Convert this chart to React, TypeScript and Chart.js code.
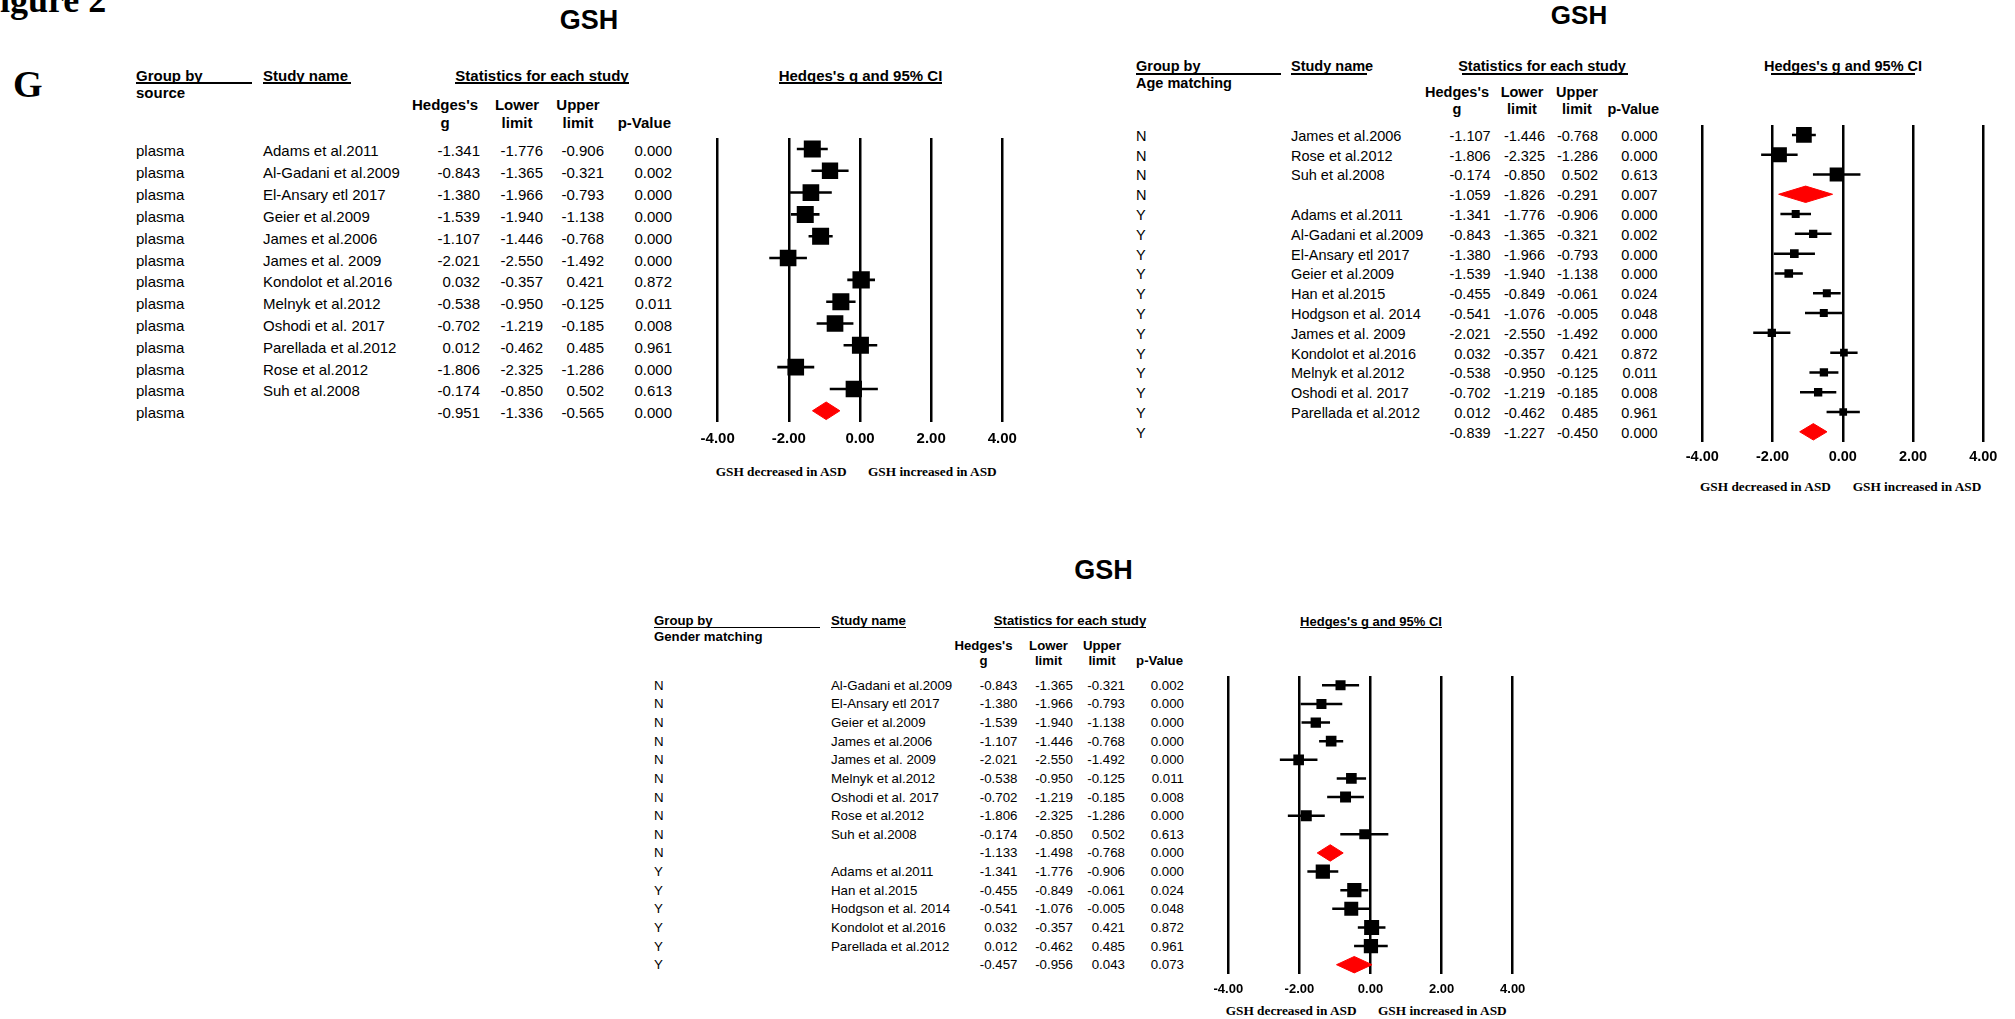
import React, { useEffect, useRef } from "react";
import { Chart, registerables } from "chart.js";

Chart.register(...registerables);

const SANS = '"Liberation Sans", Arial, Helvetica, sans-serif';
const SERIF = '"Liberation Serif", "Times New Roman", serif';

// ---------- shared text ----------
const FIGURE_LABEL = "Figure 2";
const PANEL_LETTER = "G";
const OUTCOME = "GSH";
const AXIS_TICKS = [-4, -2, 0, 2, 4];
const LEFT_NOTE = "GSH decreased in ASD";
const RIGHT_NOTE = "GSH increased in ASD";

// ---------- panel 1: group by source ----------
const P1_GROUP_TITLE = "source";
const P1_GROUP = ["plasma", "plasma", "plasma", "plasma", "plasma", "plasma", "plasma", "plasma", "plasma", "plasma", "plasma", "plasma", "plasma"];
const P1_STUDY = ["Adams et al.2011", "Al-Gadani et al.2009", "El-Ansary etl 2017", "Geier et al.2009", "James et al.2006", "James et al. 2009", "Kondolot et al.2016", "Melnyk et al.2012", "Oshodi et al. 2017", "Parellada et al.2012", "Rose et al.2012", "Suh et al.2008", ""];
const P1_G = [-1.341, -0.843, -1.380, -1.539, -1.107, -2.021, 0.032, -0.538, -0.702, 0.012, -1.806, -0.174, -0.951];
const P1_LOWER = [-1.776, -1.365, -1.966, -1.940, -1.446, -2.550, -0.357, -0.950, -1.219, -0.462, -2.325, -0.850, -1.336];
const P1_UPPER = [-0.906, -0.321, -0.793, -1.138, -0.768, -1.492, 0.421, -0.125, -0.185, 0.485, -1.286, 0.502, -0.565];
const P1_P = [0.000, 0.002, 0.000, 0.000, 0.000, 0.000, 0.872, 0.011, 0.008, 0.961, 0.000, 0.613, 0.000];
const P1_WEIGHT = [1.0, 0.96, 0.98, 1.0, 1.0, 0.98, 1.02, 1.0, 0.98, 1.0, 0.98, 0.96, 0];

// ---------- panel 2: group by age matching ----------
const P2_GROUP_TITLE = "Age matching";
const P2_GROUP = ["N", "N", "N", "N", "Y", "Y", "Y", "Y", "Y", "Y", "Y", "Y", "Y", "Y", "Y", "Y"];
const P2_STUDY = ["James et al.2006", "Rose et al.2012", "Suh et al.2008", "", "Adams et al.2011", "Al-Gadani et al.2009", "El-Ansary etl 2017", "Geier et al.2009", "Han et al.2015", "Hodgson et al. 2014", "James et al. 2009", "Kondolot et al.2016", "Melnyk et al.2012", "Oshodi et al. 2017", "Parellada et al.2012", ""];
const P2_G = [-1.107, -1.806, -0.174, -1.059, -1.341, -0.843, -1.380, -1.539, -0.455, -0.541, -2.021, 0.032, -0.538, -0.702, 0.012, -0.839];
const P2_LOWER = [-1.446, -2.325, -0.850, -1.826, -1.776, -1.365, -1.966, -1.940, -0.849, -1.076, -2.550, -0.357, -0.950, -1.219, -0.462, -1.227];
const P2_UPPER = [-0.768, -1.286, 0.502, -0.291, -0.906, -0.321, -0.793, -1.138, -0.061, -0.005, -1.492, 0.421, -0.125, -0.185, 0.485, -0.450];
const P2_P = [0.000, 0.000, 0.613, 0.007, 0.000, 0.002, 0.000, 0.000, 0.024, 0.048, 0.000, 0.872, 0.011, 0.008, 0.961, 0.000];
const P2_WEIGHT = [0.98, 0.94, 0.88, 0, 0.5, 0.52, 0.54, 0.54, 0.5, 0.5, 0.52, 0.48, 0.52, 0.52, 0.48, 0];

// ---------- panel 3: group by gender matching ----------
const P3_GROUP_TITLE = "Gender matching";
const P3_GROUP = ["N", "N", "N", "N", "N", "N", "N", "N", "N", "N", "Y", "Y", "Y", "Y", "Y", "Y"];
const P3_STUDY = ["Al-Gadani et al.2009", "El-Ansary etl 2017", "Geier et al.2009", "James et al.2006", "James et al. 2009", "Melnyk et al.2012", "Oshodi et al. 2017", "Rose et al.2012", "Suh et al.2008", "", "Adams et al.2011", "Han et al.2015", "Hodgson et al. 2014", "Kondolot et al.2016", "Parellada et al.2012", ""];
const P3_G = [-0.843, -1.380, -1.539, -1.107, -2.021, -0.538, -0.702, -1.806, -0.174, -1.133, -1.341, -0.455, -0.541, 0.032, 0.012, -0.457];
const P3_LOWER = [-1.365, -1.966, -1.940, -1.446, -2.550, -0.950, -1.219, -2.325, -0.850, -1.498, -1.776, -0.849, -1.076, -0.357, -0.462, -0.956];
const P3_UPPER = [-0.321, -0.793, -1.138, -0.768, -1.492, -0.125, -0.185, -1.286, 0.502, -0.768, -0.906, -0.061, -0.005, 0.421, 0.485, 0.043];
const P3_P = [0.002, 0.000, 0.000, 0.000, 0.000, 0.011, 0.008, 0.000, 0.613, 0.000, 0.000, 0.024, 0.048, 0.872, 0.961, 0.073];
const P3_WEIGHT = [0.67, 0.67, 0.69, 0.71, 0.71, 0.71, 0.73, 0.73, 0.67, 0, 0.95, 0.95, 0.93, 1.0, 0.95, 0];

type PanelData = {
  groupTitle: string;
  group: string[];
  study: string[];
  g: number[];
  lo: number[];
  hi: number[];
  p: number[];
  w: number[];
};

const D1: PanelData = { groupTitle: P1_GROUP_TITLE, group: P1_GROUP, study: P1_STUDY, g: P1_G, lo: P1_LOWER, hi: P1_UPPER, p: P1_P, w: P1_WEIGHT };
const D2: PanelData = { groupTitle: P2_GROUP_TITLE, group: P2_GROUP, study: P2_STUDY, g: P2_G, lo: P2_LOWER, hi: P2_UPPER, p: P2_P, w: P2_WEIGHT };
const D3: PanelData = { groupTitle: P3_GROUP_TITLE, group: P3_GROUP, study: P3_STUDY, g: P3_G, lo: P3_LOWER, hi: P3_UPPER, p: P3_P, w: P3_WEIGHT };

// ---------- layouts (positions / sizes only) ----------
const L1 = {
  title: { x: 589, y: 20, size: 27 },
  head: { size: 15, groupX: 136, y1: 75, y2: 92, groupUl: [136, 252], studyX: 263, studyUl: [263, 351], statsC: 542, statsUl: [455, 629], yA: 104, yB: 122, hedgesC: 445, lowerC: 517, upperC: 578, pRight: 671, ulY: 83 },
  rows: { size: 15, groupX: 136, studyX: 263, gR: 480, loR: 543, hiR: 604, pR: 672, dy: 1.5 },
  plot: { left: 717.7, right: 1002.3, top: 138, bottom: 421.7, tickY: 439, tickSize: 15, grid: 2.5, ci: 2.6, marker: 17, diamondHalf: 8.8 },
  ciHead: { x: 860.5, y: 75, size: 15, ul: [779, 942], ulY: 83 },
  bottom: { y: 471.7, size: 13.3, decX: 715.7, incX: 868 },
};

const L2 = {
  title: { x: 1579, y: 15, size: 26 },
  head: { size: 14.5, groupX: 1136, y1: 66, y2: 83, groupUl: [1136, 1280.5], studyX: 1291, studyUl: [1291, 1367], statsC: 1542, statsUl: [1462, 1628], yA: 92, yB: 109, hedgesC: 1457, lowerC: 1522, upperC: 1577, pRight: 1659, ulY: 74 },
  rows: { size: 14.5, groupX: 1136, studyX: 1291, gR: 1490.6, loR: 1545, hiR: 1598, pR: 1657.6, dy: 1 },
  plot: { left: 1702.3, right: 1983.3, top: 125, bottom: 441.7, tickY: 456.7, tickSize: 14.5, grid: 2.5, ci: 2.5, marker: 16, diamondHalf: 8.2 },
  ciHead: { x: 1843, y: 66, size: 14.5, ul: [1770.7, 1915], ulY: 74 },
  bottom: { y: 486.7, size: 13.3, decX: 1700, incX: 1852.7 },
};

const L3 = {
  title: { x: 1103.5, y: 570, size: 27 },
  head: { size: 13.2, groupX: 654, y1: 620.7, y2: 636.7, groupUl: [654, 820], studyX: 831, studyUl: [831, 906], statsC: 1070, statsUl: [993.6, 1146.4], yA: 645.7, yB: 660.7, hedgesC: 983.5, lowerC: 1048.5, upperC: 1102, pRight: 1183, ulY: 627.5 },
  rows: { size: 13.3, groupX: 654, studyX: 831, gR: 1017.5, loR: 1072.9, hiR: 1125, pR: 1184, dy: 0.5 },
  plot: { left: 1228.3, right: 1512.7, top: 676, bottom: 974, tickY: 989.3, tickSize: 13, grid: 2.5, ci: 2.5, marker: 15, diamondHalf: 8.2 },
  ciHead: { x: 1371, y: 620.7, size: 13, ul: [1300, 1442.3], ulY: 627.5 },
  bottom: { y: 1011, size: 13.3, decX: 1225.7, incX: 1378 },
};

type Layout = typeof L1;

function Txt(props: { x: number; y: number; s: string; size: number; bold?: boolean; align?: "left" | "right" | "center"; family?: string }) {
  const { x, y, s, size, bold = false, align = "left", family = SANS } = props;
  const tx = align === "right" ? "-100%" : align === "center" ? "-50%" : "0";
  return (
    <span
      style={{
        position: "absolute",
        left: x,
        top: y,
        transform: `translate(${tx}, -50%)`,
        fontFamily: family,
        fontSize: size,
        fontWeight: bold ? 700 : 400,
        lineHeight: 1,
        whiteSpace: "pre",
        color: "#000",
      }}
    >
      {s}
    </span>
  );
}

function Rule(props: { x1: number; x2: number; y: number; t?: number }) {
  const { x1, x2, y, t = 1.5 } = props;
  return <div style={{ position: "absolute", left: x1, top: y - t / 2, width: x2 - x1, height: t, background: "#000" }} />;
}

function Forest({ d, L }: { d: PanelData; L: Layout }) {
  const ref = useRef<HTMLCanvasElement | null>(null);
  const P = L.plot;
  const PAD = 30;
  const AXIS_H = 40;
  const cl = Math.floor(P.left) - PAD;
  const ct = Math.floor(P.top) - 12;
  const cw = Math.min(2015, Math.ceil(P.right) + PAD) - cl;
  const ch = Math.ceil(P.bottom) + AXIS_H - ct;

  useEffect(() => {
    if (!ref.current) return;
    const n = d.g.length;
    const step = (P.bottom - P.top) / n;
    const half = P.diamondHalf / step;
    const ciPts: any[] = [];
    const sqPts: any[] = [];
    const sqR: number[] = [];
    const diamondSets: any[] = [];
    d.g.forEach((g, i) => {
      if (d.study[i] === "") {
        diamondSets.push({
          data: [
            { x: d.lo[i], y: i },
            { x: g, y: i - half },
            { x: d.hi[i], y: i },
            { x: g, y: i + half },
            { x: d.lo[i], y: i },
          ],
          showLine: true,
          borderColor: "#ff0000",
          backgroundColor: "#ff0000",
          borderWidth: 1,
          pointRadius: 0,
          fill: "shape",
          tension: 0,
        });
      } else {
        ciPts.push({ x: d.lo[i], y: i }, { x: d.hi[i], y: i }, { x: null, y: null });
        sqPts.push({ x: g, y: i });
        sqR.push((P.marker * d.w[i]) / Math.SQRT2);
      }
    });

    const chart = new Chart(ref.current, {
      type: "line",
      data: {
        datasets: [
          {
            data: sqPts,
            showLine: false,
            pointStyle: "rect",
            pointRadius: sqR,
            pointHoverRadius: sqR,
            pointBackgroundColor: "#000",
            pointBorderWidth: 0,
            borderWidth: 0,
          },
          {
            data: ciPts,
            showLine: true,
            spanGaps: false,
            borderColor: "#000",
            borderWidth: P.ci,
            pointRadius: 0,
            fill: false,
            tension: 0,
          },
          ...diamondSets,
        ] as any,
      },
      options: {
        responsive: false,
        animation: false,
        events: [],
        layout: {
          padding: {
            left: P.left - cl,
            right: cl + cw - P.right,
            top: P.top - ct,
            bottom: Math.ceil(P.bottom) - P.bottom,
          },
        },
        plugins: { legend: { display: false }, tooltip: { enabled: false } },
        scales: {
          x: {
            type: "linear",
            min: -4,
            max: 4,
            afterBuildTicks: (s: any) => {
              s.ticks = AXIS_TICKS.map((v) => ({ value: v }));
            },
            afterFit: (s: any) => {
              s.height = AXIS_H;
            },
            grid: { color: "#000", lineWidth: P.grid, drawTicks: false, drawOnChartArea: true },
            border: { display: false },
            ticks: {
              color: "#000",
              autoSkip: false,
              maxRotation: 0,
              padding: P.tickY - P.bottom - P.tickSize * 0.6,
              font: { family: SANS, weight: "bold", size: P.tickSize },
              callback: (v: any) => Number(v).toFixed(2),
            },
          },
          y: {
            type: "linear",
            display: false,
            reverse: true,
            min: -0.5,
            max: n - 0.5,
          },
        },
      } as any,
    });
    return () => chart.destroy();
  }, []);

  return <canvas ref={ref} width={cw} height={ch} style={{ position: "absolute", left: cl, top: ct, width: cw, height: ch }} />;
}

function Panel({ d, L }: { d: PanelData; L: Layout }) {
  const H = L.head;
  const R = L.rows;
  const P = L.plot;
  const n = d.g.length;
  const step = (P.bottom - P.top) / n;
  const rowY = (i: number) => P.top + (i + 0.5) * step + R.dy;
  const items: any[] = [];
  d.g.forEach((g, i) => {
    const y = rowY(i);
    items.push(<Txt key={"g" + i} x={R.groupX} y={y} s={d.group[i]} size={R.size} />);
    if (d.study[i]) items.push(<Txt key={"s" + i} x={R.studyX} y={y} s={d.study[i]} size={R.size} />);
    items.push(<Txt key={"e" + i} x={R.gR} y={y} s={g.toFixed(3)} size={R.size} align="right" />);
    items.push(<Txt key={"l" + i} x={R.loR} y={y} s={d.lo[i].toFixed(3)} size={R.size} align="right" />);
    items.push(<Txt key={"u" + i} x={R.hiR} y={y} s={d.hi[i].toFixed(3)} size={R.size} align="right" />);
    items.push(<Txt key={"p" + i} x={R.pR} y={y} s={d.p[i].toFixed(3)} size={R.size} align="right" />);
  });
  return (
    <>
      <Txt x={L.title.x} y={L.title.y} s={OUTCOME} size={L.title.size} bold align="center" />
      <Txt x={H.groupX} y={H.y1} s="Group by" size={H.size} bold />
      <Rule x1={H.groupUl[0]} x2={H.groupUl[1]} y={H.ulY} />
      <Txt x={H.groupX} y={H.y2} s={d.groupTitle} size={H.size} bold />
      <Txt x={H.studyX} y={H.y1} s="Study name" size={H.size} bold />
      <Rule x1={H.studyUl[0]} x2={H.studyUl[1]} y={H.ulY} />
      <Txt x={H.statsC} y={H.y1} s="Statistics for each study" size={H.size} bold align="center" />
      <Rule x1={H.statsUl[0]} x2={H.statsUl[1]} y={H.ulY} />
      <Txt x={H.hedgesC} y={H.yA} s="Hedges's" size={H.size} bold align="center" />
      <Txt x={H.hedgesC} y={H.yB} s="g" size={H.size} bold align="center" />
      <Txt x={H.lowerC} y={H.yA} s="Lower" size={H.size} bold align="center" />
      <Txt x={H.lowerC} y={H.yB} s="limit" size={H.size} bold align="center" />
      <Txt x={H.upperC} y={H.yA} s="Upper" size={H.size} bold align="center" />
      <Txt x={H.upperC} y={H.yB} s="limit" size={H.size} bold align="center" />
      <Txt x={H.pRight} y={H.yB} s="p-Value" size={H.size} bold align="right" />
      <Txt x={L.ciHead.x} y={L.ciHead.y} s="Hedges's g and 95% CI" size={L.ciHead.size} bold align="center" />
      <Rule x1={L.ciHead.ul[0]} x2={L.ciHead.ul[1]} y={L.ciHead.ulY} />
      {items}
      <Txt x={L.bottom.decX} y={L.bottom.y} s={LEFT_NOTE} size={L.bottom.size} bold family={SERIF} />
      <Txt x={L.bottom.incX} y={L.bottom.y} s={RIGHT_NOTE} size={L.bottom.size} bold family={SERIF} />
      <Forest d={d} L={L} />
    </>
  );
}

export default function App() {
  return (
    <div style={{ position: "absolute", left: 0, top: 0, width: 2015, height: 1019, overflow: "hidden", background: "#fff" }}>
      <span
        style={{
          position: "absolute",
          left: -22,
          top: -18,
          fontFamily: SERIF,
          fontWeight: 700,
          fontSize: 36,
          lineHeight: 1,
          whiteSpace: "pre",
          color: "#000",
        }}
      >
        {FIGURE_LABEL}
      </span>
      <Txt x={13} y={84} s={PANEL_LETTER} size={38} bold family={SERIF} />
      <Panel d={D1} L={L1} />
      <Panel d={D2} L={L2} />
      <Panel d={D3} L={L3} />
    </div>
  );
}
